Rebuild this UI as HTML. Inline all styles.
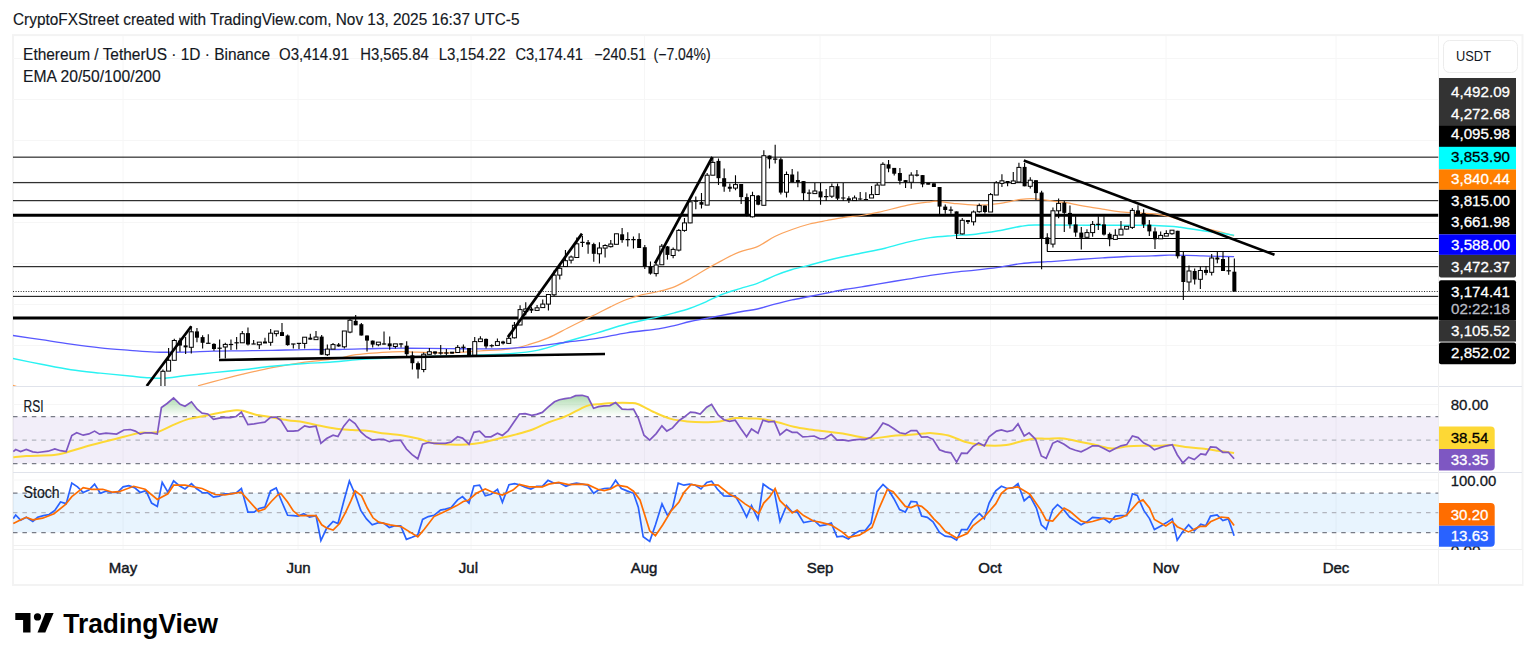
<!DOCTYPE html><html><head><meta charset="utf-8"><style>html,body{margin:0;padding:0;background:#fff;}svg{display:block;}text{font-family:"Liberation Sans", sans-serif;}</style></head><body>
<svg width="1536" height="662" viewBox="0 0 1536 662">
<defs>
<clipPath id="main"><rect x="13" y="35" width="1425.5" height="351"/></clipPath>
<clipPath id="rsi"><rect x="13" y="387" width="1425.5" height="85"/></clipPath>
<clipPath id="sto"><rect x="13" y="473" width="1425.5" height="75"/></clipPath>
<linearGradient id="gg" x1="0" y1="0" x2="0" y2="1"><stop offset="0" stop-color="#4caf50" stop-opacity="0.45"/><stop offset="1" stop-color="#4caf50" stop-opacity="0"/></linearGradient>
</defs>
<text x="13" y="24.6" font-size="15.9" fill="#131722" stroke="#131722" stroke-width="0.15" textLength="506.5" lengthAdjust="spacingAndGlyphs">CryptoFXStreet created with TradingView.com, Nov 13, 2025 16:37 UTC-5</text>
<rect x="13" y="35.1" width="1509.5" height="549.9" fill="none" stroke="#f3f3f3" stroke-width="2"/>
<line x1="123" y1="36" x2="123" y2="549" stroke="#f6f6f6" stroke-width="1"/>
<line x1="298" y1="36" x2="298" y2="549" stroke="#f6f6f6" stroke-width="1"/>
<line x1="471" y1="36" x2="471" y2="549" stroke="#f6f6f6" stroke-width="1"/>
<line x1="644.5" y1="36" x2="644.5" y2="549" stroke="#f6f6f6" stroke-width="1"/>
<line x1="820" y1="36" x2="820" y2="549" stroke="#f6f6f6" stroke-width="1"/>
<line x1="990.5" y1="36" x2="990.5" y2="549" stroke="#f6f6f6" stroke-width="1"/>
<line x1="1166" y1="36" x2="1166" y2="549" stroke="#f6f6f6" stroke-width="1"/>
<line x1="1336" y1="36" x2="1336" y2="549" stroke="#f6f6f6" stroke-width="1"/>
<line x1="13" y1="58.5" x2="1438.5" y2="58.5" stroke="#f6f6f6" stroke-width="1"/>
<line x1="13" y1="99.5" x2="1438.5" y2="99.5" stroke="#f6f6f6" stroke-width="1"/>
<line x1="13" y1="140.5" x2="1438.5" y2="140.5" stroke="#f6f6f6" stroke-width="1"/>
<line x1="13" y1="181.5" x2="1438.5" y2="181.5" stroke="#f6f6f6" stroke-width="1"/>
<line x1="13" y1="222.5" x2="1438.5" y2="222.5" stroke="#f6f6f6" stroke-width="1"/>
<line x1="13" y1="263.5" x2="1438.5" y2="263.5" stroke="#f6f6f6" stroke-width="1"/>
<line x1="13" y1="304.5" x2="1438.5" y2="304.5" stroke="#f6f6f6" stroke-width="1"/>
<line x1="13" y1="345.5" x2="1438.5" y2="345.5" stroke="#f6f6f6" stroke-width="1"/>
<line x1="13" y1="404.5" x2="1438.5" y2="404.5" stroke="#f6f6f6" stroke-width="1"/>
<line x1="13" y1="480" x2="1438.5" y2="480" stroke="#f6f6f6" stroke-width="1"/>
<line x1="13" y1="386.5" x2="1522" y2="386.5" stroke="#e0e3eb" stroke-width="1"/>
<line x1="13" y1="472.5" x2="1522" y2="472.5" stroke="#e0e3eb" stroke-width="1"/>
<line x1="13" y1="545.5" x2="1438.5" y2="545.5" stroke="#f0f0f0" stroke-width="1"/>
<line x1="13" y1="549.5" x2="1522" y2="549.5" stroke="#f0f0f0" stroke-width="1"/>
<line x1="1438.5" y1="36" x2="1438.5" y2="584" stroke="#f0f0f0" stroke-width="1"/>
<g clip-path="url(#main)">
<line x1="13" y1="157.15" x2="1438.5" y2="157.15" stroke="#000" stroke-width="1"/>
<line x1="13" y1="182.7" x2="1438.5" y2="182.7" stroke="#000" stroke-width="1"/>
<line x1="13" y1="200.7" x2="1438.5" y2="200.7" stroke="#000" stroke-width="1"/>
<line x1="13" y1="266.7" x2="1438.5" y2="266.7" stroke="#000" stroke-width="1"/>
<line x1="13" y1="296.35" x2="1438.5" y2="296.35" stroke="#000" stroke-width="1"/>
<line x1="956" y1="238.5" x2="1438.5" y2="238.5" stroke="#000" stroke-width="1"/>
<line x1="1047" y1="251.5" x2="1438.5" y2="251.5" stroke="#000" stroke-width="1"/>
<line x1="13" y1="215.3" x2="1438.5" y2="215.3" stroke="#000" stroke-width="3"/>
<line x1="13" y1="318" x2="1438.5" y2="318" stroke="#000" stroke-width="3"/>
<line x1="13" y1="291.5" x2="1438.5" y2="291.5" stroke="#222" stroke-width="1" stroke-dasharray="1,1.547"/>
<path d="M12,385.2 L18,387" fill="none" stroke="#ffa050" stroke-width="1.3"/>
<path d="M198.00,385.80 C202.23,384.67 215.92,380.95 223.40,379.00 C230.88,377.05 234.77,375.98 242.90,374.10 C251.03,372.22 261.85,369.70 272.20,367.70 C282.55,365.70 297.12,363.28 305.00,362.10 C312.88,360.92 313.83,361.25 319.50,360.60 C325.17,359.95 333.42,359.10 339.00,358.20 C344.58,357.30 348.10,356.00 353.00,355.20 C357.90,354.40 362.58,353.92 368.40,353.40 C374.22,352.88 382.22,352.40 387.90,352.10 C393.58,351.80 397.62,351.58 402.50,351.60 C407.38,351.62 409.28,352.00 417.20,352.20 C425.12,352.40 439.63,353.00 450.00,352.80 C460.37,352.60 469.58,351.62 479.40,351.00 C489.22,350.38 500.72,350.15 508.90,349.10 C517.08,348.05 521.95,346.58 528.50,344.70 C535.05,342.82 541.65,340.58 548.20,337.80 C554.75,335.02 561.27,331.27 567.80,328.00 C574.33,324.73 582.53,320.57 587.40,318.20 C592.27,315.83 593.08,315.73 597.00,313.80 C600.92,311.87 605.95,308.98 610.90,306.60 C615.85,304.22 621.42,301.48 626.70,299.50 C631.98,297.52 637.32,296.03 642.60,294.70 C647.88,293.37 653.12,292.82 658.40,291.50 C663.68,290.18 669.02,288.92 674.30,286.80 C679.58,284.68 684.82,281.72 690.10,278.80 C695.38,275.88 700.72,272.33 706.00,269.30 C711.28,266.27 716.38,263.43 721.80,260.60 C727.22,257.77 732.57,254.63 738.50,252.30 C744.43,249.97 751.35,249.23 757.40,246.60 C763.45,243.97 769.02,239.35 774.80,236.50 C780.58,233.65 786.32,231.58 792.10,229.50 C797.88,227.42 803.70,225.50 809.50,224.00 C815.30,222.50 821.10,221.60 826.90,220.50 C832.70,219.40 838.50,218.23 844.30,217.40 C850.10,216.57 855.90,216.37 861.70,215.50 C867.50,214.63 871.43,213.93 879.10,212.20 C886.77,210.47 899.17,206.83 907.70,205.10 C916.23,203.37 925.27,202.43 930.30,201.80 C935.33,201.17 934.12,201.05 937.90,201.30 C941.68,201.55 946.72,202.67 953.00,203.30 C959.28,203.93 968.05,205.05 975.60,205.10 C983.15,205.15 990.73,204.55 998.30,203.60 C1005.87,202.65 1014.88,200.20 1021.00,199.40 C1027.12,198.60 1029.47,198.48 1035.00,198.80 C1040.53,199.12 1048.98,200.65 1054.20,201.30 C1059.42,201.95 1062.27,202.07 1066.30,202.70 C1070.33,203.33 1074.38,204.35 1078.40,205.10 C1082.42,205.85 1086.38,206.53 1090.40,207.20 C1094.42,207.87 1098.47,208.43 1102.50,209.10 C1106.53,209.77 1110.57,210.65 1114.60,211.20 C1118.63,211.75 1120.47,211.98 1126.70,212.40 C1132.93,212.82 1144.95,213.02 1152.00,213.70 C1159.05,214.38 1163.33,215.08 1169.00,216.50 C1174.67,217.92 1180.33,220.30 1186.00,222.20 C1191.67,224.10 1197.33,226.30 1203.00,227.90 C1208.67,229.50 1214.82,230.48 1220.00,231.80 C1225.18,233.12 1231.75,235.13 1234.10,235.80" fill="none" stroke="#fba45e" stroke-width="1.25"/>
<path d="M12.00,358.40 C16.90,359.38 31.58,362.42 41.40,364.30 C51.22,366.18 61.08,368.23 70.90,369.70 C80.72,371.17 90.48,372.05 100.30,373.10 C110.12,374.15 121.62,375.22 129.80,376.00 C137.98,376.78 143.57,377.43 149.40,377.80 C155.23,378.17 158.98,378.53 164.80,378.20 C170.62,377.87 176.17,376.73 184.30,375.80 C192.43,374.87 203.83,373.62 213.60,372.60 C223.37,371.58 233.13,370.75 242.90,369.70 C252.67,368.65 261.85,367.33 272.20,366.30 C282.55,365.27 295.48,364.17 305.00,363.50 C314.52,362.83 320.37,362.95 329.30,362.30 C338.23,361.65 348.83,360.32 358.60,359.60 C368.37,358.88 379.77,358.47 387.90,358.00 C396.03,357.53 397.05,357.13 407.40,356.80 C417.75,356.47 438.00,356.30 450.00,356.00 C462.00,355.70 469.58,355.37 479.40,355.00 C489.22,354.63 499.08,354.62 508.90,353.80 C518.72,352.98 528.48,352.20 538.30,350.10 C548.12,348.00 557.85,344.12 567.80,341.20 C577.75,338.28 588.18,335.47 598.00,332.60 C607.82,329.73 616.63,326.62 626.70,324.00 C636.77,321.38 650.47,318.75 658.40,316.90 C666.33,315.05 669.02,314.35 674.30,312.90 C679.58,311.45 684.82,310.05 690.10,308.20 C695.38,306.35 700.72,304.08 706.00,301.80 C711.28,299.52 716.13,296.70 721.80,294.50 C727.47,292.30 734.07,290.45 740.00,288.60 C745.93,286.75 751.60,285.57 757.40,283.40 C763.20,281.23 769.02,277.92 774.80,275.60 C780.58,273.28 786.32,271.23 792.10,269.50 C797.88,267.77 803.70,266.70 809.50,265.20 C815.30,263.70 821.10,261.95 826.90,260.50 C832.70,259.05 838.50,257.75 844.30,256.50 C850.10,255.25 854.92,254.38 861.70,253.00 C868.48,251.62 877.33,250.02 885.00,248.20 C892.67,246.38 900.15,243.87 907.70,242.10 C915.25,240.33 922.75,238.68 930.30,237.60 C937.85,236.52 945.45,236.17 953.00,235.60 C960.55,235.03 968.05,235.00 975.60,234.20 C983.15,233.40 990.73,232.12 998.30,230.80 C1005.87,229.48 1014.88,227.27 1021.00,226.30 C1027.12,225.33 1027.45,225.20 1035.00,225.00 C1042.55,224.80 1055.05,225.05 1066.30,225.10 C1077.55,225.15 1090.42,225.27 1102.50,225.30 C1114.58,225.33 1127.72,225.15 1138.80,225.30 C1149.88,225.45 1162.08,225.87 1169.00,226.20 C1175.92,226.53 1176.53,226.83 1180.30,227.30 C1184.07,227.77 1187.82,228.43 1191.60,229.00 C1195.38,229.57 1198.27,230.03 1203.00,230.70 C1207.73,231.37 1214.82,232.25 1220.00,233.00 C1225.18,233.75 1231.75,234.83 1234.10,235.20" fill="none" stroke="#2af2f2" stroke-width="1.45"/>
<path d="M12.00,335.30 C16.90,336.03 31.58,338.23 41.40,339.70 C51.22,341.17 61.08,342.75 70.90,344.10 C80.72,345.45 90.48,346.77 100.30,347.80 C110.12,348.83 120.68,349.58 129.80,350.30 C138.92,351.02 145.92,351.80 155.00,352.10 C164.08,352.40 174.53,352.27 184.30,352.10 C194.07,351.93 203.83,351.32 213.60,351.10 C223.37,350.88 233.13,350.92 242.90,350.80 C252.67,350.68 261.85,350.60 272.20,350.40 C282.55,350.20 293.87,349.75 305.00,349.60 C316.13,349.45 326.82,349.68 339.00,349.50 C351.18,349.32 366.70,348.72 378.10,348.50 C389.50,348.28 395.42,348.18 407.40,348.20 C419.38,348.22 438.00,348.48 450.00,348.60 C462.00,348.72 469.58,348.95 479.40,348.90 C489.22,348.85 499.08,348.77 508.90,348.30 C518.72,347.83 528.48,347.15 538.30,346.10 C548.12,345.05 558.02,343.30 567.80,342.00 C577.58,340.70 587.18,339.83 597.00,338.30 C606.82,336.77 616.47,334.38 626.70,332.80 C636.93,331.22 650.47,330.00 658.40,328.80 C666.33,327.60 669.02,326.82 674.30,325.60 C679.58,324.38 684.82,322.68 690.10,321.50 C695.38,320.32 700.72,319.53 706.00,318.50 C711.28,317.47 715.80,316.47 721.80,315.30 C727.80,314.13 736.07,312.55 742.00,311.50 C747.93,310.45 751.93,310.22 757.40,309.00 C762.87,307.78 769.02,305.72 774.80,304.20 C780.58,302.68 786.32,301.18 792.10,299.90 C797.88,298.62 803.70,297.65 809.50,296.50 C815.30,295.35 821.10,294.17 826.90,293.00 C832.70,291.83 838.50,290.52 844.30,289.50 C850.10,288.48 855.90,287.85 861.70,286.90 C867.50,285.95 871.43,285.10 879.10,283.80 C886.77,282.50 899.17,280.52 907.70,279.10 C916.23,277.68 922.75,276.43 930.30,275.30 C937.85,274.17 945.45,273.17 953.00,272.30 C960.55,271.43 968.05,270.93 975.60,270.10 C983.15,269.27 990.73,268.38 998.30,267.30 C1005.87,266.22 1013.70,264.48 1021.00,263.60 C1028.30,262.72 1036.57,262.38 1042.10,262.00 C1047.63,261.62 1048.15,261.72 1054.20,261.30 C1060.25,260.88 1070.35,260.07 1078.40,259.50 C1086.45,258.93 1094.45,258.40 1102.50,257.90 C1110.55,257.40 1118.45,256.83 1126.70,256.50 C1134.95,256.17 1144.95,256.12 1152.00,255.90 C1159.05,255.68 1163.33,255.30 1169.00,255.20 C1174.67,255.10 1180.33,255.18 1186.00,255.30 C1191.67,255.42 1197.33,255.72 1203.00,255.90 C1208.67,256.08 1214.82,256.27 1220.00,256.40 C1225.18,256.53 1231.75,256.65 1234.10,256.70" fill="none" stroke="#5858ff" stroke-width="1.35"/>
<line x1="162.94" y1="369.4" x2="162.94" y2="400" stroke="#000" stroke-width="1.1"/>
<rect x="160.94" y="371.29999999999995" width="4" height="28.70" fill="#fff" stroke="#000" stroke-width="1"/>
<line x1="168.61" y1="347.9" x2="168.61" y2="371.1" stroke="#000" stroke-width="1.1"/>
<rect x="166.61" y="360.3" width="4" height="10.80" fill="#fff" stroke="#000" stroke-width="1"/>
<line x1="174.28" y1="338.8" x2="174.28" y2="360.3" stroke="#000" stroke-width="1.1"/>
<rect x="172.28" y="340.5" width="4" height="19.80" fill="#fff" stroke="#000" stroke-width="1"/>
<line x1="179.95" y1="337.7" x2="179.95" y2="351.8" stroke="#000" stroke-width="1.1"/>
<rect x="177.95" y="340.5" width="4" height="5.10" fill="#000"/>
<line x1="185.62" y1="337.1" x2="185.62" y2="354.1" stroke="#000" stroke-width="1.1"/>
<rect x="183.62" y="345.35" width="4" height="2.00" fill="#000"/>
<line x1="191.28" y1="326.3" x2="191.28" y2="353.5" stroke="#000" stroke-width="1.1"/>
<rect x="189.28" y="331.8" width="4" height="15.50" fill="#fff" stroke="#000" stroke-width="1"/>
<line x1="196.95" y1="328" x2="196.95" y2="342.2" stroke="#000" stroke-width="1.1"/>
<rect x="194.95" y="331.4" width="4" height="6.30" fill="#000"/>
<line x1="202.62" y1="335.2" x2="202.62" y2="348.4" stroke="#000" stroke-width="1.1"/>
<rect x="200.62" y="337.1" width="4" height="5.70" fill="#000"/>
<line x1="208.29" y1="334.3" x2="208.29" y2="343.3" stroke="#000" stroke-width="1.1"/>
<line x1="206.09" y1="343.3" x2="210.49" y2="343.3" stroke="#000" stroke-width="1.2"/>
<line x1="213.96" y1="343.3" x2="213.96" y2="350.7" stroke="#000" stroke-width="1.1"/>
<rect x="211.96" y="343.9" width="4" height="5.10" fill="#000"/>
<line x1="219.63" y1="339.4" x2="219.63" y2="358.6" stroke="#000" stroke-width="1.1"/>
<line x1="217.43" y1="348.2" x2="221.83" y2="348.2" stroke="#000" stroke-width="1.2"/>
<line x1="225.30" y1="342.8" x2="225.30" y2="358.6" stroke="#000" stroke-width="1.1"/>
<rect x="223.30" y="344.4" width="4" height="2.60" fill="#fff" stroke="#000" stroke-width="1"/>
<line x1="230.97" y1="339.4" x2="230.97" y2="350.1" stroke="#000" stroke-width="1.1"/>
<line x1="228.77" y1="344.5" x2="233.17" y2="344.5" stroke="#000" stroke-width="1.2"/>
<line x1="236.63" y1="337.1" x2="236.63" y2="349.6" stroke="#000" stroke-width="1.1"/>
<line x1="234.43" y1="342.8" x2="238.83" y2="342.8" stroke="#000" stroke-width="1.2"/>
<line x1="242.30" y1="330.9" x2="242.30" y2="342.8" stroke="#000" stroke-width="1.1"/>
<rect x="240.30" y="333.7" width="4" height="9.10" fill="#fff" stroke="#000" stroke-width="1"/>
<line x1="247.97" y1="327.5" x2="247.97" y2="345.6" stroke="#000" stroke-width="1.1"/>
<rect x="245.97" y="333.1" width="4" height="11.40" fill="#000"/>
<line x1="253.64" y1="340" x2="253.64" y2="344" stroke="#000" stroke-width="1.1"/>
<line x1="251.44" y1="344" x2="255.84" y2="344" stroke="#000" stroke-width="1.2"/>
<line x1="259.31" y1="342.9" x2="259.31" y2="349.1" stroke="#000" stroke-width="1.1"/>
<rect x="257.31" y="342.15" width="4" height="2.60" fill="#fff" stroke="#000" stroke-width="1"/>
<line x1="264.98" y1="337.8" x2="264.98" y2="343" stroke="#000" stroke-width="1.1"/>
<rect x="262.98" y="341.5" width="4" height="2.00" fill="#000"/>
<line x1="270.65" y1="329" x2="270.65" y2="345.7" stroke="#000" stroke-width="1.1"/>
<rect x="268.65" y="333.2" width="4" height="9.10" fill="#fff" stroke="#000" stroke-width="1"/>
<line x1="276.32" y1="331.5" x2="276.32" y2="336.6" stroke="#000" stroke-width="1.1"/>
<rect x="274.32" y="331.05" width="4" height="2.60" fill="#fff" stroke="#000" stroke-width="1"/>
<line x1="281.99" y1="323" x2="281.99" y2="336" stroke="#000" stroke-width="1.1"/>
<rect x="279.99" y="332.1" width="4" height="3.90" fill="#000"/>
<line x1="287.65" y1="334.4" x2="287.65" y2="345.7" stroke="#000" stroke-width="1.1"/>
<rect x="285.65" y="335.5" width="4" height="9.60" fill="#000"/>
<line x1="293.32" y1="344" x2="293.32" y2="348.5" stroke="#000" stroke-width="1.1"/>
<line x1="291.12" y1="344" x2="295.52" y2="344" stroke="#000" stroke-width="1.2"/>
<line x1="298.99" y1="343.4" x2="298.99" y2="349.1" stroke="#000" stroke-width="1.1"/>
<line x1="296.79" y1="343.4" x2="301.19" y2="343.4" stroke="#000" stroke-width="1.2"/>
<line x1="304.66" y1="337.2" x2="304.66" y2="348.5" stroke="#000" stroke-width="1.1"/>
<rect x="302.66" y="337.19999999999993" width="4" height="6.20" fill="#fff" stroke="#000" stroke-width="1"/>
<line x1="310.33" y1="333.8" x2="310.33" y2="339.5" stroke="#000" stroke-width="1.1"/>
<rect x="308.33" y="337.65" width="4" height="2.00" fill="#000"/>
<line x1="316.00" y1="331" x2="316.00" y2="339.5" stroke="#000" stroke-width="1.1"/>
<rect x="314.00" y="337.05" width="4" height="2.60" fill="#fff" stroke="#000" stroke-width="1"/>
<line x1="321.67" y1="334.9" x2="321.67" y2="354.7" stroke="#000" stroke-width="1.1"/>
<rect x="319.67" y="336.6" width="4" height="18.10" fill="#000"/>
<line x1="327.34" y1="344.6" x2="327.34" y2="355.9" stroke="#000" stroke-width="1.1"/>
<rect x="325.34" y="349.1" width="4" height="5.60" fill="#fff" stroke="#000" stroke-width="1"/>
<line x1="333.01" y1="342.9" x2="333.01" y2="349.1" stroke="#000" stroke-width="1.1"/>
<rect x="331.01" y="344.6" width="4" height="4.50" fill="#fff" stroke="#000" stroke-width="1"/>
<line x1="338.67" y1="342.9" x2="338.67" y2="346.8" stroke="#000" stroke-width="1.1"/>
<rect x="336.67" y="344.45000000000005" width="4" height="2.00" fill="#000"/>
<line x1="344.34" y1="331" x2="344.34" y2="348.5" stroke="#000" stroke-width="1.1"/>
<rect x="342.34" y="331" width="4" height="15.80" fill="#fff" stroke="#000" stroke-width="1"/>
<line x1="350.01" y1="319" x2="350.01" y2="333.2" stroke="#000" stroke-width="1.1"/>
<rect x="348.01" y="320.19999999999993" width="4" height="11.90" fill="#fff" stroke="#000" stroke-width="1"/>
<line x1="355.68" y1="315.1" x2="355.68" y2="325.3" stroke="#000" stroke-width="1.1"/>
<rect x="353.68" y="320.8" width="4" height="4.50" fill="#000"/>
<line x1="361.35" y1="323" x2="361.35" y2="335.5" stroke="#000" stroke-width="1.1"/>
<rect x="359.35" y="324.2" width="4" height="11.30" fill="#000"/>
<line x1="367.02" y1="335.5" x2="367.02" y2="351.4" stroke="#000" stroke-width="1.1"/>
<rect x="365.02" y="335.5" width="4" height="5.10" fill="#000"/>
<line x1="372.69" y1="340.6" x2="372.69" y2="347.4" stroke="#000" stroke-width="1.1"/>
<rect x="370.69" y="340.6" width="4" height="4.00" fill="#000"/>
<line x1="378.36" y1="342.9" x2="378.36" y2="346.3" stroke="#000" stroke-width="1.1"/>
<rect x="376.36" y="342.15" width="4" height="2.60" fill="#fff" stroke="#000" stroke-width="1"/>
<line x1="384.02" y1="331.5" x2="384.02" y2="344.5" stroke="#000" stroke-width="1.1"/>
<line x1="381.82" y1="344" x2="386.22" y2="344" stroke="#000" stroke-width="1.2"/>
<line x1="389.69" y1="336.6" x2="389.69" y2="349.7" stroke="#000" stroke-width="1.1"/>
<rect x="387.69" y="343.4" width="4" height="2.90" fill="#000"/>
<line x1="395.36" y1="344" x2="395.36" y2="348.5" stroke="#000" stroke-width="1.1"/>
<rect x="393.36" y="343.84999999999997" width="4" height="2.60" fill="#fff" stroke="#000" stroke-width="1"/>
<line x1="401.03" y1="343" x2="401.03" y2="347.4" stroke="#000" stroke-width="1.1"/>
<line x1="398.83" y1="344" x2="403.23" y2="344" stroke="#000" stroke-width="1.2"/>
<line x1="406.70" y1="341.2" x2="406.70" y2="355.9" stroke="#000" stroke-width="1.1"/>
<rect x="404.70" y="345.7" width="4" height="8.50" fill="#000"/>
<line x1="412.37" y1="351.4" x2="412.37" y2="369.5" stroke="#000" stroke-width="1.1"/>
<rect x="410.37" y="355.3" width="4" height="7.90" fill="#000"/>
<line x1="418.04" y1="361.5" x2="418.04" y2="378.5" stroke="#000" stroke-width="1.1"/>
<rect x="416.04" y="363.2" width="4" height="6.30" fill="#000"/>
<line x1="423.71" y1="352.5" x2="423.71" y2="372.3" stroke="#000" stroke-width="1.1"/>
<rect x="421.71" y="354.2" width="4" height="15.30" fill="#fff" stroke="#000" stroke-width="1"/>
<line x1="429.38" y1="348" x2="429.38" y2="354.7" stroke="#000" stroke-width="1.1"/>
<rect x="427.38" y="351.74999999999994" width="4" height="2.60" fill="#fff" stroke="#000" stroke-width="1"/>
<line x1="435.04" y1="351.4" x2="435.04" y2="354.7" stroke="#000" stroke-width="1.1"/>
<rect x="433.04" y="351.4" width="4" height="2.20" fill="#000"/>
<line x1="440.71" y1="345.1" x2="440.71" y2="354.7" stroke="#000" stroke-width="1.1"/>
<line x1="438.51" y1="353" x2="442.91" y2="353" stroke="#000" stroke-width="1.2"/>
<line x1="446.38" y1="349.1" x2="446.38" y2="355.3" stroke="#000" stroke-width="1.1"/>
<line x1="444.18" y1="353" x2="448.58" y2="353" stroke="#000" stroke-width="1.2"/>
<line x1="452.05" y1="352.1" x2="452.05" y2="353.6" stroke="#000" stroke-width="1.1"/>
<rect x="450.05" y="351.70000000000005" width="4" height="2.00" fill="#000"/>
<line x1="457.72" y1="345.1" x2="457.72" y2="352.5" stroke="#000" stroke-width="1.1"/>
<rect x="455.72" y="347.4" width="4" height="5.10" fill="#fff" stroke="#000" stroke-width="1"/>
<line x1="463.39" y1="344.6" x2="463.39" y2="352.2" stroke="#000" stroke-width="1.1"/>
<line x1="461.19" y1="347.3" x2="465.59" y2="347.3" stroke="#000" stroke-width="1.2"/>
<line x1="469.06" y1="348" x2="469.06" y2="356" stroke="#000" stroke-width="1.1"/>
<rect x="467.06" y="348" width="4" height="7.20" fill="#000"/>
<line x1="474.73" y1="337.1" x2="474.73" y2="355.2" stroke="#000" stroke-width="1.1"/>
<rect x="472.73" y="341.6" width="4" height="13.60" fill="#fff" stroke="#000" stroke-width="1"/>
<line x1="480.40" y1="336.3" x2="480.40" y2="341.6" stroke="#000" stroke-width="1.1"/>
<rect x="478.40" y="338.9" width="4" height="2.70" fill="#fff" stroke="#000" stroke-width="1"/>
<line x1="486.06" y1="338.6" x2="486.06" y2="348.4" stroke="#000" stroke-width="1.1"/>
<rect x="484.06" y="338.9" width="4" height="7.50" fill="#000"/>
<line x1="491.73" y1="344.3" x2="491.73" y2="347.6" stroke="#000" stroke-width="1.1"/>
<line x1="489.53" y1="345.7" x2="493.93" y2="345.7" stroke="#000" stroke-width="1.2"/>
<line x1="497.40" y1="338.6" x2="497.40" y2="345.4" stroke="#000" stroke-width="1.1"/>
<rect x="495.40" y="341.6" width="4" height="3.80" fill="#fff" stroke="#000" stroke-width="1"/>
<line x1="503.07" y1="340.8" x2="503.07" y2="344.6" stroke="#000" stroke-width="1.1"/>
<rect x="501.07" y="341.5" width="4" height="2.00" fill="#000"/>
<line x1="508.74" y1="336.3" x2="508.74" y2="343.8" stroke="#000" stroke-width="1.1"/>
<rect x="506.74" y="338.3" width="4" height="5.10" fill="#fff" stroke="#000" stroke-width="1"/>
<line x1="514.41" y1="322" x2="514.41" y2="338.6" stroke="#000" stroke-width="1.1"/>
<rect x="512.41" y="325.3" width="4" height="12.50" fill="#fff" stroke="#000" stroke-width="1"/>
<line x1="520.08" y1="305.3" x2="520.08" y2="325" stroke="#000" stroke-width="1.1"/>
<rect x="518.08" y="309.6" width="4" height="15.40" fill="#fff" stroke="#000" stroke-width="1"/>
<line x1="525.75" y1="302.3" x2="525.75" y2="315.2" stroke="#000" stroke-width="1.1"/>
<rect x="523.75" y="308.95" width="4" height="2.60" fill="#fff" stroke="#000" stroke-width="1"/>
<line x1="531.41" y1="306.8" x2="531.41" y2="312.9" stroke="#000" stroke-width="1.1"/>
<rect x="529.41" y="308.65" width="4" height="2.00" fill="#000"/>
<line x1="537.08" y1="305" x2="537.08" y2="310.2" stroke="#000" stroke-width="1.1"/>
<rect x="535.08" y="307.8" width="4" height="2.60" fill="#fff" stroke="#000" stroke-width="1"/>
<line x1="542.75" y1="299.6" x2="542.75" y2="307.6" stroke="#000" stroke-width="1.1"/>
<rect x="540.75" y="304.1" width="4" height="3.50" fill="#fff" stroke="#000" stroke-width="1"/>
<line x1="548.42" y1="294" x2="548.42" y2="310.6" stroke="#000" stroke-width="1.1"/>
<rect x="546.42" y="294.5" width="4" height="9.60" fill="#fff" stroke="#000" stroke-width="1"/>
<line x1="554.09" y1="270.6" x2="554.09" y2="296.3" stroke="#000" stroke-width="1.1"/>
<rect x="552.09" y="275.1" width="4" height="19.70" fill="#fff" stroke="#000" stroke-width="1"/>
<line x1="559.76" y1="263" x2="559.76" y2="279.6" stroke="#000" stroke-width="1.1"/>
<rect x="557.76" y="268.3" width="4" height="6.80" fill="#fff" stroke="#000" stroke-width="1"/>
<line x1="565.43" y1="250.1" x2="565.43" y2="266.5" stroke="#000" stroke-width="1.1"/>
<rect x="563.43" y="260.7" width="4" height="5.80" fill="#fff" stroke="#000" stroke-width="1"/>
<line x1="571.10" y1="255.4" x2="571.10" y2="263.4" stroke="#000" stroke-width="1.1"/>
<rect x="569.10" y="257" width="4" height="3.20" fill="#fff" stroke="#000" stroke-width="1"/>
<line x1="576.77" y1="237.5" x2="576.77" y2="257.5" stroke="#000" stroke-width="1.1"/>
<rect x="574.77" y="243.8" width="4" height="13.70" fill="#fff" stroke="#000" stroke-width="1"/>
<line x1="582.43" y1="235.9" x2="582.43" y2="247" stroke="#000" stroke-width="1.1"/>
<line x1="580.23" y1="242.4" x2="584.63" y2="242.4" stroke="#000" stroke-width="1.2"/>
<line x1="588.10" y1="240.1" x2="588.10" y2="253.8" stroke="#000" stroke-width="1.1"/>
<rect x="586.10" y="242.2" width="4" height="2.30" fill="#000"/>
<line x1="593.77" y1="242.7" x2="593.77" y2="261.8" stroke="#000" stroke-width="1.1"/>
<rect x="591.77" y="244.09999999999997" width="4" height="9.70" fill="#000"/>
<line x1="599.44" y1="242.2" x2="599.44" y2="263.4" stroke="#000" stroke-width="1.1"/>
<rect x="597.44" y="248" width="4" height="5.80" fill="#fff" stroke="#000" stroke-width="1"/>
<line x1="605.11" y1="244.3" x2="605.11" y2="257.5" stroke="#000" stroke-width="1.1"/>
<rect x="603.11" y="245.5" width="4" height="2.60" fill="#fff" stroke="#000" stroke-width="1"/>
<line x1="610.78" y1="240.1" x2="610.78" y2="247.5" stroke="#000" stroke-width="1.1"/>
<rect x="608.78" y="244.05" width="4" height="2.60" fill="#fff" stroke="#000" stroke-width="1"/>
<line x1="616.45" y1="233.8" x2="616.45" y2="244.3" stroke="#000" stroke-width="1.1"/>
<rect x="614.45" y="233.8" width="4" height="10.50" fill="#fff" stroke="#000" stroke-width="1"/>
<line x1="622.12" y1="227.9" x2="622.12" y2="242.7" stroke="#000" stroke-width="1.1"/>
<rect x="620.12" y="234.3" width="4" height="5.80" fill="#000"/>
<line x1="627.78" y1="232.2" x2="627.78" y2="246.4" stroke="#000" stroke-width="1.1"/>
<line x1="625.58" y1="239.6" x2="629.98" y2="239.6" stroke="#000" stroke-width="1.2"/>
<line x1="633.45" y1="236.4" x2="633.45" y2="248.6" stroke="#000" stroke-width="1.1"/>
<line x1="631.25" y1="239.6" x2="635.65" y2="239.6" stroke="#000" stroke-width="1.2"/>
<line x1="639.12" y1="233.2" x2="639.12" y2="248" stroke="#000" stroke-width="1.1"/>
<rect x="637.12" y="239" width="4" height="9.00" fill="#000"/>
<line x1="644.79" y1="245" x2="644.79" y2="269.1" stroke="#000" stroke-width="1.1"/>
<rect x="642.79" y="247.2" width="4" height="19.60" fill="#000"/>
<line x1="650.46" y1="261.5" x2="650.46" y2="274.6" stroke="#000" stroke-width="1.1"/>
<rect x="648.46" y="266.19999999999993" width="4" height="7.40" fill="#000"/>
<line x1="656.13" y1="263.4" x2="656.13" y2="276.4" stroke="#000" stroke-width="1.1"/>
<rect x="654.13" y="265" width="4" height="8.60" fill="#fff" stroke="#000" stroke-width="1"/>
<line x1="661.80" y1="244" x2="661.80" y2="265" stroke="#000" stroke-width="1.1"/>
<rect x="659.80" y="246.2" width="4" height="18.60" fill="#fff" stroke="#000" stroke-width="1"/>
<line x1="667.47" y1="246" x2="667.47" y2="259.6" stroke="#000" stroke-width="1.1"/>
<rect x="665.47" y="246.4" width="4" height="8.50" fill="#000"/>
<line x1="673.14" y1="247.4" x2="673.14" y2="258.3" stroke="#000" stroke-width="1.1"/>
<rect x="671.14" y="249.39999999999998" width="4" height="6.10" fill="#fff" stroke="#000" stroke-width="1"/>
<line x1="678.80" y1="229" x2="678.80" y2="251.5" stroke="#000" stroke-width="1.1"/>
<rect x="676.80" y="230.4" width="4" height="19.70" fill="#fff" stroke="#000" stroke-width="1"/>
<line x1="684.47" y1="218.1" x2="684.47" y2="231.7" stroke="#000" stroke-width="1.1"/>
<rect x="682.47" y="222.9" width="4" height="7.50" fill="#fff" stroke="#000" stroke-width="1"/>
<line x1="690.14" y1="201" x2="690.14" y2="223.3" stroke="#000" stroke-width="1.1"/>
<rect x="688.14" y="201.8" width="4" height="21.10" fill="#fff" stroke="#000" stroke-width="1"/>
<line x1="695.81" y1="196.4" x2="695.81" y2="209.3" stroke="#000" stroke-width="1.1"/>
<line x1="693.61" y1="201.2" x2="698.01" y2="201.2" stroke="#000" stroke-width="1.2"/>
<line x1="701.48" y1="193" x2="701.48" y2="208.5" stroke="#000" stroke-width="1.1"/>
<rect x="699.48" y="202.09999999999997" width="4" height="2.60" fill="#000"/>
<line x1="707.15" y1="173" x2="707.15" y2="205.1" stroke="#000" stroke-width="1.1"/>
<rect x="705.15" y="175.2" width="4" height="29.90" fill="#fff" stroke="#000" stroke-width="1"/>
<line x1="712.82" y1="157.8" x2="712.82" y2="175.2" stroke="#000" stroke-width="1.1"/>
<rect x="710.82" y="162.4" width="4" height="12.80" fill="#fff" stroke="#000" stroke-width="1"/>
<line x1="718.49" y1="158.6" x2="718.49" y2="185" stroke="#000" stroke-width="1.1"/>
<rect x="716.49" y="160.9" width="4" height="17.30" fill="#000"/>
<line x1="724.16" y1="168.4" x2="724.16" y2="191.8" stroke="#000" stroke-width="1.1"/>
<rect x="722.16" y="178.2" width="4" height="8.40" fill="#000"/>
<line x1="729.82" y1="183.5" x2="729.82" y2="191.8" stroke="#000" stroke-width="1.1"/>
<rect x="727.82" y="186.75" width="4" height="2.00" fill="#000"/>
<line x1="735.49" y1="175.2" x2="735.49" y2="190.3" stroke="#000" stroke-width="1.1"/>
<rect x="733.49" y="184.6" width="4" height="3.50" fill="#fff" stroke="#000" stroke-width="1"/>
<line x1="741.16" y1="184" x2="741.16" y2="203.9" stroke="#000" stroke-width="1.1"/>
<rect x="739.16" y="184" width="4" height="13.10" fill="#000"/>
<line x1="746.83" y1="193.4" x2="746.83" y2="216.5" stroke="#000" stroke-width="1.1"/>
<rect x="744.83" y="197.1" width="4" height="18.90" fill="#000"/>
<line x1="752.50" y1="191.8" x2="752.50" y2="217.5" stroke="#000" stroke-width="1.1"/>
<rect x="750.50" y="195.59999999999997" width="4" height="21.20" fill="#fff" stroke="#000" stroke-width="1"/>
<line x1="758.17" y1="195" x2="758.17" y2="205.3" stroke="#000" stroke-width="1.1"/>
<rect x="756.17" y="195.59999999999997" width="4" height="9.10" fill="#000"/>
<line x1="763.84" y1="150.3" x2="763.84" y2="205.3" stroke="#000" stroke-width="1.1"/>
<rect x="761.84" y="155.7" width="4" height="49.60" fill="#fff" stroke="#000" stroke-width="1"/>
<line x1="769.51" y1="155.5" x2="769.51" y2="168.4" stroke="#000" stroke-width="1.1"/>
<rect x="767.51" y="155.5" width="4" height="3.80" fill="#000"/>
<line x1="775.17" y1="144.8" x2="775.17" y2="163.6" stroke="#000" stroke-width="1.1"/>
<line x1="772.97" y1="159.1" x2="777.37" y2="159.1" stroke="#000" stroke-width="1.2"/>
<line x1="780.84" y1="157.5" x2="780.84" y2="194.4" stroke="#000" stroke-width="1.1"/>
<rect x="778.84" y="159.3" width="4" height="33.30" fill="#000"/>
<line x1="786.51" y1="171.4" x2="786.51" y2="197.4" stroke="#000" stroke-width="1.1"/>
<rect x="784.51" y="174.5" width="4" height="17.70" fill="#fff" stroke="#000" stroke-width="1"/>
<line x1="792.18" y1="169" x2="792.18" y2="182.3" stroke="#000" stroke-width="1.1"/>
<rect x="790.18" y="174.5" width="4" height="7.80" fill="#000"/>
<line x1="797.85" y1="171.4" x2="797.85" y2="187.2" stroke="#000" stroke-width="1.1"/>
<rect x="795.85" y="180" width="4" height="2.00" fill="#000"/>
<line x1="803.52" y1="181.1" x2="803.52" y2="200.5" stroke="#000" stroke-width="1.1"/>
<rect x="801.52" y="181.09999999999997" width="4" height="12.10" fill="#000"/>
<line x1="809.19" y1="189.6" x2="809.19" y2="201.1" stroke="#000" stroke-width="1.1"/>
<line x1="806.99" y1="193.2" x2="811.39" y2="193.2" stroke="#000" stroke-width="1.2"/>
<line x1="814.86" y1="182.9" x2="814.86" y2="193.2" stroke="#000" stroke-width="1.1"/>
<rect x="812.86" y="191.0" width="4" height="2.60" fill="#fff" stroke="#000" stroke-width="1"/>
<line x1="820.53" y1="182.9" x2="820.53" y2="204.7" stroke="#000" stroke-width="1.1"/>
<rect x="818.53" y="191.4" width="4" height="6.00" fill="#000"/>
<line x1="826.19" y1="189" x2="826.19" y2="201.1" stroke="#000" stroke-width="1.1"/>
<line x1="823.99" y1="196.6" x2="828.39" y2="196.6" stroke="#000" stroke-width="1.2"/>
<line x1="831.86" y1="183.5" x2="831.86" y2="198" stroke="#000" stroke-width="1.1"/>
<rect x="829.86" y="186.59999999999997" width="4" height="9.60" fill="#fff" stroke="#000" stroke-width="1"/>
<line x1="837.53" y1="183.5" x2="837.53" y2="199.9" stroke="#000" stroke-width="1.1"/>
<rect x="835.53" y="186.2" width="4" height="12.40" fill="#000"/>
<line x1="843.20" y1="182.9" x2="843.20" y2="201.1" stroke="#000" stroke-width="1.1"/>
<line x1="841.00" y1="198" x2="845.40" y2="198" stroke="#000" stroke-width="1.2"/>
<line x1="848.87" y1="196.2" x2="848.87" y2="202.9" stroke="#000" stroke-width="1.1"/>
<rect x="846.87" y="198.25" width="4" height="2.00" fill="#000"/>
<line x1="854.54" y1="195.6" x2="854.54" y2="199.9" stroke="#000" stroke-width="1.1"/>
<rect x="852.54" y="197.95" width="4" height="2.60" fill="#fff" stroke="#000" stroke-width="1"/>
<line x1="860.21" y1="192" x2="860.21" y2="199.9" stroke="#000" stroke-width="1.1"/>
<line x1="858.01" y1="199" x2="862.41" y2="199" stroke="#000" stroke-width="1.2"/>
<line x1="865.88" y1="192.3" x2="865.88" y2="200" stroke="#000" stroke-width="1.1"/>
<line x1="863.68" y1="199.5" x2="868.08" y2="199.5" stroke="#000" stroke-width="1.2"/>
<line x1="871.55" y1="185.9" x2="871.55" y2="198" stroke="#000" stroke-width="1.1"/>
<rect x="869.55" y="194.7" width="4" height="3.30" fill="#fff" stroke="#000" stroke-width="1"/>
<line x1="877.21" y1="183" x2="877.21" y2="194.5" stroke="#000" stroke-width="1.1"/>
<rect x="875.21" y="185.1" width="4" height="9.40" fill="#fff" stroke="#000" stroke-width="1"/>
<line x1="882.88" y1="162.2" x2="882.88" y2="185.1" stroke="#000" stroke-width="1.1"/>
<rect x="880.88" y="164.3" width="4" height="20.80" fill="#fff" stroke="#000" stroke-width="1"/>
<line x1="888.55" y1="160" x2="888.55" y2="172.2" stroke="#000" stroke-width="1.1"/>
<rect x="886.55" y="164.3" width="4" height="4.30" fill="#000"/>
<line x1="894.22" y1="167.9" x2="894.22" y2="175.5" stroke="#000" stroke-width="1.1"/>
<rect x="892.22" y="167.9" width="4" height="5.80" fill="#000"/>
<line x1="899.89" y1="167.9" x2="899.89" y2="184.4" stroke="#000" stroke-width="1.1"/>
<rect x="897.89" y="173" width="4" height="7.80" fill="#000"/>
<line x1="905.56" y1="180.1" x2="905.56" y2="188" stroke="#000" stroke-width="1.1"/>
<rect x="903.56" y="180.09999999999997" width="4" height="2.20" fill="#000"/>
<line x1="911.23" y1="172.2" x2="911.23" y2="188.7" stroke="#000" stroke-width="1.1"/>
<rect x="909.23" y="175.09999999999997" width="4" height="7.20" fill="#fff" stroke="#000" stroke-width="1"/>
<line x1="916.90" y1="170" x2="916.90" y2="176.5" stroke="#000" stroke-width="1.1"/>
<line x1="914.70" y1="175.1" x2="919.10" y2="175.1" stroke="#000" stroke-width="1.2"/>
<line x1="922.56" y1="175.1" x2="922.56" y2="187.3" stroke="#000" stroke-width="1.1"/>
<rect x="920.56" y="175.1" width="4" height="9.30" fill="#000"/>
<line x1="928.23" y1="183" x2="928.23" y2="184.4" stroke="#000" stroke-width="1.1"/>
<rect x="926.23" y="182.7" width="4" height="2.00" fill="#000"/>
<line x1="933.90" y1="183.3" x2="933.90" y2="187" stroke="#000" stroke-width="1.1"/>
<rect x="931.90" y="183.3" width="4" height="3.70" fill="#000"/>
<line x1="939.57" y1="187" x2="939.57" y2="214.5" stroke="#000" stroke-width="1.1"/>
<rect x="937.57" y="187" width="4" height="19.60" fill="#000"/>
<line x1="945.24" y1="204.5" x2="945.24" y2="213.8" stroke="#000" stroke-width="1.1"/>
<rect x="943.24" y="206.6" width="4" height="3.40" fill="#000"/>
<line x1="950.91" y1="206.6" x2="950.91" y2="213.8" stroke="#000" stroke-width="1.1"/>
<line x1="948.71" y1="210.2" x2="953.11" y2="210.2" stroke="#000" stroke-width="1.2"/>
<line x1="956.58" y1="211.4" x2="956.58" y2="238.2" stroke="#000" stroke-width="1.1"/>
<rect x="954.58" y="211.4" width="4" height="22.50" fill="#000"/>
<line x1="962.25" y1="218.1" x2="962.25" y2="234.5" stroke="#000" stroke-width="1.1"/>
<rect x="960.25" y="220.3" width="4" height="13.60" fill="#fff" stroke="#000" stroke-width="1"/>
<line x1="967.92" y1="220.3" x2="967.92" y2="224" stroke="#000" stroke-width="1.1"/>
<rect x="965.92" y="220.05" width="4" height="2.00" fill="#000"/>
<line x1="973.58" y1="210.4" x2="973.58" y2="225.6" stroke="#000" stroke-width="1.1"/>
<rect x="971.58" y="212" width="4" height="9.80" fill="#fff" stroke="#000" stroke-width="1"/>
<line x1="979.25" y1="203.6" x2="979.25" y2="212.7" stroke="#000" stroke-width="1.1"/>
<rect x="977.25" y="205.59999999999997" width="4" height="6.10" fill="#fff" stroke="#000" stroke-width="1"/>
<line x1="984.92" y1="205.6" x2="984.92" y2="213.5" stroke="#000" stroke-width="1.1"/>
<rect x="982.92" y="205.6" width="4" height="6.40" fill="#000"/>
<line x1="990.59" y1="193" x2="990.59" y2="212" stroke="#000" stroke-width="1.1"/>
<rect x="988.59" y="194.6" width="4" height="17.40" fill="#fff" stroke="#000" stroke-width="1"/>
<line x1="996.26" y1="181" x2="996.26" y2="195" stroke="#000" stroke-width="1.1"/>
<rect x="994.26" y="182.89999999999998" width="4" height="12.10" fill="#fff" stroke="#000" stroke-width="1"/>
<line x1="1001.93" y1="174.2" x2="1001.93" y2="187" stroke="#000" stroke-width="1.1"/>
<rect x="999.93" y="180.79999999999998" width="4" height="2.60" fill="#fff" stroke="#000" stroke-width="1"/>
<line x1="1007.60" y1="181" x2="1007.60" y2="186.3" stroke="#000" stroke-width="1.1"/>
<rect x="1005.60" y="181" width="4" height="2.20" fill="#000"/>
<line x1="1013.27" y1="171.9" x2="1013.27" y2="183.5" stroke="#000" stroke-width="1.1"/>
<rect x="1011.27" y="180.95" width="4" height="2.60" fill="#fff" stroke="#000" stroke-width="1"/>
<line x1="1018.93" y1="162.8" x2="1018.93" y2="182" stroke="#000" stroke-width="1.1"/>
<rect x="1016.93" y="167.39999999999998" width="4" height="14.60" fill="#fff" stroke="#000" stroke-width="1"/>
<line x1="1024.60" y1="162.8" x2="1024.60" y2="186.3" stroke="#000" stroke-width="1.1"/>
<rect x="1022.60" y="166.9" width="4" height="19.40" fill="#000"/>
<line x1="1030.27" y1="177.2" x2="1030.27" y2="188.5" stroke="#000" stroke-width="1.1"/>
<rect x="1028.27" y="180.2" width="4" height="6.10" fill="#fff" stroke="#000" stroke-width="1"/>
<line x1="1035.94" y1="180.2" x2="1035.94" y2="199.9" stroke="#000" stroke-width="1.1"/>
<rect x="1033.94" y="180.2" width="4" height="12.90" fill="#000"/>
<line x1="1041.61" y1="190.8" x2="1041.61" y2="269.3" stroke="#000" stroke-width="1.1"/>
<rect x="1039.61" y="192.5" width="4" height="45.50" fill="#000"/>
<line x1="1047.28" y1="233.3" x2="1047.28" y2="251.6" stroke="#000" stroke-width="1.1"/>
<rect x="1045.28" y="237.3" width="4" height="6.80" fill="#000"/>
<line x1="1052.95" y1="207.4" x2="1052.95" y2="247.5" stroke="#000" stroke-width="1.1"/>
<rect x="1050.95" y="210.8" width="4" height="33.30" fill="#fff" stroke="#000" stroke-width="1"/>
<line x1="1058.62" y1="198.6" x2="1058.62" y2="218.3" stroke="#000" stroke-width="1.1"/>
<rect x="1056.62" y="203.4" width="4" height="7.40" fill="#fff" stroke="#000" stroke-width="1"/>
<line x1="1064.29" y1="201" x2="1064.29" y2="231.9" stroke="#000" stroke-width="1.1"/>
<rect x="1062.29" y="202.7" width="4" height="10.20" fill="#000"/>
<line x1="1069.95" y1="205.4" x2="1069.95" y2="228.5" stroke="#000" stroke-width="1.1"/>
<rect x="1067.95" y="212.9" width="4" height="11.50" fill="#000"/>
<line x1="1075.62" y1="216.3" x2="1075.62" y2="236.7" stroke="#000" stroke-width="1.1"/>
<rect x="1073.62" y="224.4" width="4" height="8.20" fill="#000"/>
<line x1="1081.29" y1="227.1" x2="1081.29" y2="249.6" stroke="#000" stroke-width="1.1"/>
<rect x="1079.29" y="232.59999999999997" width="4" height="5.20" fill="#000"/>
<line x1="1086.96" y1="229.2" x2="1086.96" y2="237.3" stroke="#000" stroke-width="1.1"/>
<rect x="1084.96" y="232.59999999999997" width="4" height="4.70" fill="#fff" stroke="#000" stroke-width="1"/>
<line x1="1092.63" y1="221" x2="1092.63" y2="236.7" stroke="#000" stroke-width="1.1"/>
<rect x="1090.63" y="224.4" width="4" height="8.20" fill="#fff" stroke="#000" stroke-width="1"/>
<line x1="1098.30" y1="216.3" x2="1098.30" y2="229.9" stroke="#000" stroke-width="1.1"/>
<line x1="1096.10" y1="224.4" x2="1100.50" y2="224.4" stroke="#000" stroke-width="1.2"/>
<line x1="1103.97" y1="216.3" x2="1103.97" y2="235.6" stroke="#000" stroke-width="1.1"/>
<rect x="1101.97" y="224.4" width="4" height="10.20" fill="#000"/>
<line x1="1109.64" y1="232.6" x2="1109.64" y2="246.2" stroke="#000" stroke-width="1.1"/>
<rect x="1107.64" y="233.9" width="4" height="5.50" fill="#000"/>
<line x1="1115.31" y1="229.2" x2="1115.31" y2="239.4" stroke="#000" stroke-width="1.1"/>
<rect x="1113.31" y="235.3" width="4" height="4.10" fill="#fff" stroke="#000" stroke-width="1"/>
<line x1="1120.97" y1="221" x2="1120.97" y2="235" stroke="#000" stroke-width="1.1"/>
<rect x="1118.97" y="229.2" width="4" height="5.80" fill="#fff" stroke="#000" stroke-width="1"/>
<line x1="1126.64" y1="226" x2="1126.64" y2="229.5" stroke="#000" stroke-width="1.1"/>
<rect x="1124.64" y="226.3" width="4" height="2.80" fill="#fff" stroke="#000" stroke-width="1"/>
<line x1="1132.31" y1="208.1" x2="1132.31" y2="229.1" stroke="#000" stroke-width="1.1"/>
<rect x="1130.31" y="210.4" width="4" height="17.00" fill="#fff" stroke="#000" stroke-width="1"/>
<line x1="1137.98" y1="205.3" x2="1137.98" y2="214.4" stroke="#000" stroke-width="1.1"/>
<rect x="1135.98" y="210.4" width="4" height="4.00" fill="#000"/>
<line x1="1143.65" y1="209.3" x2="1143.65" y2="228" stroke="#000" stroke-width="1.1"/>
<rect x="1141.65" y="213.2" width="4" height="11.40" fill="#000"/>
<line x1="1149.32" y1="220" x2="1149.32" y2="235.9" stroke="#000" stroke-width="1.1"/>
<rect x="1147.32" y="224.6" width="4" height="6.80" fill="#000"/>
<line x1="1154.99" y1="227.4" x2="1154.99" y2="249" stroke="#000" stroke-width="1.1"/>
<rect x="1152.99" y="231.4" width="4" height="7.90" fill="#000"/>
<line x1="1160.66" y1="231.4" x2="1160.66" y2="238.8" stroke="#000" stroke-width="1.1"/>
<rect x="1158.66" y="235.4" width="4" height="3.40" fill="#fff" stroke="#000" stroke-width="1"/>
<line x1="1166.32" y1="230.2" x2="1166.32" y2="235.9" stroke="#000" stroke-width="1.1"/>
<rect x="1164.32" y="233.5" width="4" height="2.60" fill="#fff" stroke="#000" stroke-width="1"/>
<line x1="1171.99" y1="230.2" x2="1171.99" y2="234.8" stroke="#000" stroke-width="1.1"/>
<rect x="1169.99" y="230.2" width="4" height="3.50" fill="#fff" stroke="#000" stroke-width="1"/>
<line x1="1177.66" y1="230.8" x2="1177.66" y2="258.6" stroke="#000" stroke-width="1.1"/>
<rect x="1175.66" y="230.8" width="4" height="25.50" fill="#000"/>
<line x1="1183.33" y1="251.5" x2="1183.33" y2="300" stroke="#000" stroke-width="1.1"/>
<rect x="1181.33" y="256" width="4" height="26.00" fill="#000"/>
<line x1="1189.00" y1="265.6" x2="1189.00" y2="291.6" stroke="#000" stroke-width="1.1"/>
<rect x="1187.00" y="271" width="4" height="11.00" fill="#fff" stroke="#000" stroke-width="1"/>
<line x1="1194.67" y1="268.4" x2="1194.67" y2="284.6" stroke="#000" stroke-width="1.1"/>
<rect x="1192.67" y="271" width="4" height="8.50" fill="#000"/>
<line x1="1200.34" y1="266.8" x2="1200.34" y2="289" stroke="#000" stroke-width="1.1"/>
<rect x="1198.34" y="270.5" width="4" height="8.80" fill="#fff" stroke="#000" stroke-width="1"/>
<line x1="1206.01" y1="265.9" x2="1206.01" y2="275.3" stroke="#000" stroke-width="1.1"/>
<rect x="1204.01" y="269.9" width="4" height="3.00" fill="#000"/>
<line x1="1211.68" y1="254" x2="1211.68" y2="275.6" stroke="#000" stroke-width="1.1"/>
<rect x="1209.68" y="258" width="4" height="14.30" fill="#fff" stroke="#000" stroke-width="1"/>
<line x1="1217.34" y1="251.7" x2="1217.34" y2="263.2" stroke="#000" stroke-width="1.1"/>
<rect x="1215.34" y="257.5" width="4" height="2.00" fill="#000"/>
<line x1="1223.01" y1="251.7" x2="1223.01" y2="271" stroke="#000" stroke-width="1.1"/>
<rect x="1221.01" y="259" width="4" height="12.00" fill="#000"/>
<line x1="1228.68" y1="257" x2="1228.68" y2="274.7" stroke="#000" stroke-width="1.1"/>
<line x1="1226.48" y1="270.8" x2="1230.88" y2="270.8" stroke="#000" stroke-width="1.2"/>
<line x1="1234.35" y1="258.4" x2="1234.35" y2="291.6" stroke="#000" stroke-width="1.1"/>
<rect x="1232.35" y="271.69999999999993" width="4" height="19.90" fill="#000"/>
<line x1="146.7" y1="386" x2="191.3" y2="326.3" stroke="#000" stroke-width="2.7"/>
<line x1="219" y1="360" x2="605" y2="354" stroke="#000" stroke-width="2.7"/>
<line x1="507.9" y1="337.1" x2="582" y2="233.6" stroke="#000" stroke-width="2.7"/>
<line x1="655" y1="263.5" x2="712.4" y2="157" stroke="#000" stroke-width="2.7"/>
<line x1="1023.8" y1="160.6" x2="1274.5" y2="254.8" stroke="#000" stroke-width="2.7"/>
</g>
<text x="23.099999999999998" y="59.8" font-size="15.6" fill="#131722" stroke="#131722" stroke-width="0.15" textLength="246.9" lengthAdjust="spacingAndGlyphs">Ethereum / TetherUS · 1D · Binance</text>
<text x="279.0" y="59.8" font-size="15.6" fill="#131722" stroke="#131722" stroke-width="0.15" textLength="70.0" lengthAdjust="spacingAndGlyphs">O3,414.91</text>
<text x="360.2" y="59.8" font-size="15.6" fill="#131722" stroke="#131722" stroke-width="0.15" textLength="68.5" lengthAdjust="spacingAndGlyphs">H3,565.84</text>
<text x="438.7" y="59.8" font-size="15.6" fill="#131722" stroke="#131722" stroke-width="0.15" textLength="66.89999999999999" lengthAdjust="spacingAndGlyphs">L3,154.22</text>
<text x="515.4000000000001" y="59.8" font-size="15.6" fill="#131722" stroke="#131722" stroke-width="0.15" textLength="67.6" lengthAdjust="spacingAndGlyphs">C3,174.41</text>
<text x="594.3000000000001" y="59.8" font-size="15.6" fill="#131722" stroke="#131722" stroke-width="0.15" textLength="51.9" lengthAdjust="spacingAndGlyphs">−240.51</text>
<text x="653.6" y="59.8" font-size="15.6" fill="#131722" stroke="#131722" stroke-width="0.15" textLength="57.099999999999994" lengthAdjust="spacingAndGlyphs">(−7.04%)</text>
<text x="23.1" y="82.2" font-size="15.6" fill="#131722" stroke="#131722" stroke-width="0.15" textLength="137.7" lengthAdjust="spacingAndGlyphs">EMA 20/50/100/200</text>
<g clip-path="url(#rsi)">
<rect x="13" y="416.5" width="1425.5" height="47" fill="#7e57c2" fill-opacity="0.1"/>
<polygon points="157.3,416.5 157.3,416.5 161.4,407.5 167.1,403.5 173.6,397.8 180.1,404.3 185.0,406.2 191.5,401.8 197.2,409.2 202.1,413.2 207.8,414.0 213.5,416.5 219.2,416.5 224.8,416.5 230.5,416.5 236.2,416.5 241.4,412.1 247.9,416.5 254.1,416.5 254.1,416.5" fill="url(#gg)"/>
<polygon points="536.6,416.5 536.6,414.4 542.3,412.4 548.0,407.2 554.5,401.8 559.4,399.7 565.1,398.6 570.8,397.8 575.7,395.6 582.2,395.3 587.9,397.0 593.6,408.3 598.5,406.7 604.2,405.9 609.9,405.6 615.6,402.6 622.1,409.2 627.8,409.5 633.5,409.2 638.3,416.5 644.0,416.5 649.7,416.5 656.2,416.5 661.9,416.5 666.8,416.5 672.5,416.5 679.0,416.5 683.9,416.5 690.4,412.1 695.3,412.7 700.2,414.0 706.7,407.2 711.6,404.3 718.1,414.9 723.8,416.5 729.5,416.5 735.2,416.5 740.9,416.5 740.9,416.5" fill="url(#gg)"/>
<line x1="13" y1="416.5" x2="1438.5" y2="416.5" stroke="#787b86" stroke-width="1.25" stroke-dasharray="4.5,4.92"/>
<line x1="13" y1="440" x2="1438.5" y2="440" stroke="#b2b5be" stroke-width="1.25" stroke-dasharray="4.5,4.92"/>
<line x1="13" y1="463.5" x2="1438.5" y2="463.5" stroke="#787b86" stroke-width="1.25" stroke-dasharray="4.5,4.92"/>
<path d="M13.30,457.20 C15.47,457.00 19.52,456.37 26.30,456.00 C33.08,455.63 47.22,455.62 54.00,455.00 C60.78,454.38 60.77,453.97 67.00,452.30 C73.23,450.63 81.90,447.58 91.40,445.00 C100.90,442.42 115.87,438.83 124.00,436.80 C132.13,434.77 134.78,433.55 140.20,432.80 C145.62,432.05 151.07,433.58 156.50,432.30 C161.93,431.02 167.38,427.33 172.80,425.10 C178.22,422.87 183.58,420.47 189.00,418.90 C194.42,417.33 199.87,416.78 205.30,415.70 C210.73,414.62 216.45,413.30 221.60,412.40 C226.75,411.50 232.67,410.57 236.20,410.30 C239.73,410.03 239.67,410.12 242.80,410.80 C245.93,411.48 250.25,413.32 255.00,414.40 C259.75,415.48 265.87,416.33 271.30,417.30 C276.73,418.27 282.18,419.38 287.60,420.20 C293.02,421.02 298.38,421.27 303.80,422.20 C309.22,423.13 314.67,424.72 320.10,425.80 C325.53,426.88 330.97,428.00 336.40,428.70 C341.83,429.40 347.28,429.60 352.70,430.00 C358.12,430.40 363.48,430.50 368.90,431.10 C374.32,431.70 379.77,432.92 385.20,433.60 C390.63,434.28 396.07,434.38 401.50,435.20 C406.93,436.02 412.38,437.15 417.80,438.50 C423.22,439.85 428.58,442.30 434.00,443.30 C439.42,444.30 444.87,444.28 450.30,444.50 C455.73,444.72 461.17,444.93 466.60,444.60 C472.03,444.27 477.48,443.52 482.90,442.50 C488.32,441.48 493.53,439.85 499.10,438.50 C504.67,437.15 510.72,435.90 516.30,434.40 C521.88,432.90 527.18,431.53 532.60,429.50 C538.02,427.47 543.38,424.37 548.80,422.20 C554.22,420.03 559.67,418.82 565.10,416.50 C570.53,414.18 577.33,410.20 581.40,408.30 C585.47,406.40 586.78,405.77 589.50,405.10 C592.22,404.43 593.63,404.65 597.70,404.30 C601.77,403.95 608.48,403.22 613.90,403.00 C619.32,402.78 626.13,402.78 630.20,403.00 C634.27,403.22 634.23,402.73 638.30,404.30 C642.37,405.87 649.17,409.97 654.60,412.40 C660.03,414.83 665.47,417.40 670.90,418.90 C676.33,420.40 681.77,420.85 687.20,421.40 C692.63,421.95 698.08,422.20 703.50,422.20 C708.92,422.20 714.28,422.08 719.70,421.40 C725.12,420.72 730.95,418.57 736.00,418.10 C741.05,417.63 745.78,418.47 750.00,418.60 C754.22,418.73 756.70,418.30 761.30,418.90 C765.90,419.50 772.18,420.90 777.60,422.20 C783.02,423.50 788.38,425.48 793.80,426.70 C799.22,427.92 804.67,428.68 810.10,429.50 C815.53,430.32 820.97,430.92 826.40,431.60 C831.83,432.28 837.27,432.73 842.70,433.60 C848.13,434.47 854.12,435.98 859.00,436.80 C863.88,437.62 866.58,438.63 872.00,438.50 C877.42,438.37 885.53,436.60 891.50,436.00 C897.47,435.40 902.38,435.30 907.80,434.90 C913.22,434.50 919.93,433.88 924.00,433.60 C928.07,433.32 928.12,432.88 932.20,433.20 C936.28,433.52 943.08,434.08 948.50,435.50 C953.92,436.92 959.28,440.12 964.70,441.70 C970.12,443.28 975.95,444.32 981.00,445.00 C986.05,445.68 990.78,445.80 995.00,445.80 C999.22,445.80 1003.07,445.42 1006.30,445.00 C1009.53,444.58 1011.68,443.98 1014.40,443.30 C1017.12,442.62 1019.07,441.70 1022.60,440.90 C1026.13,440.10 1031.53,438.85 1035.60,438.50 C1039.67,438.15 1042.40,438.80 1047.00,438.80 C1051.60,438.80 1057.78,438.02 1063.20,438.50 C1068.62,438.98 1074.07,440.62 1079.50,441.70 C1084.93,442.78 1090.37,443.87 1095.80,445.00 C1101.23,446.13 1106.68,448.28 1112.10,448.50 C1117.52,448.72 1122.88,446.75 1128.30,446.30 C1133.72,445.85 1139.17,445.88 1144.60,445.80 C1150.03,445.72 1156.28,445.93 1160.90,445.80 C1165.52,445.67 1168.23,444.82 1172.30,445.00 C1176.37,445.18 1180.42,446.32 1185.30,446.90 C1190.18,447.48 1196.17,447.87 1201.60,448.50 C1207.03,449.13 1212.48,449.93 1217.90,450.70 C1223.32,451.47 1231.40,452.70 1234.10,453.10" fill="none" stroke="#fdd835" stroke-width="2"/>
<polyline points="13.3,451.5 15.7,449.5 20.6,451.5 26.3,449.5 32.8,451.8 37.7,452.5 48.2,451.2 54.8,449.0 60.5,450.7 66.2,451.5 71.8,435.5 76.7,432.8 83.2,435.2 88.9,433.9 94.6,431.1 99.5,434.1 106.0,433.2 116.6,434.1 123.9,430.0 130.4,429.5 135.3,431.1 140.2,434.1 145.1,432.8 151.6,432.9 157.3,434.1 161.4,407.5 167.1,403.5 173.6,397.8 180.1,404.3 185.0,406.2 191.5,401.8 197.2,409.2 202.1,413.2 207.8,414.0 213.5,419.3 219.2,418.1 224.8,417.3 230.5,417.6 236.2,416.5 241.4,412.1 247.9,424.6 254.1,423.8 259.1,423.0 264.8,422.2 270.5,417.3 276.2,417.0 281.0,420.6 287.6,431.1 293.2,431.1 298.1,430.6 304.6,425.9 309.5,427.1 316.0,426.2 320.9,443.3 326.6,438.5 333.1,435.2 338.0,436.5 343.7,426.2 349.4,419.3 355.1,423.5 360.8,431.9 366.5,436.8 372.2,440.1 378.7,439.3 383.6,439.3 389.3,441.7 394.2,440.4 400.7,440.4 406.4,449.0 412.1,454.7 417.8,458.8 422.6,444.2 428.3,442.5 434.0,443.3 440.5,443.3 445.4,443.3 451.1,442.0 457.6,436.8 462.5,438.1 469.0,444.2 473.9,432.3 479.6,431.1 485.3,436.8 491.0,436.8 497.5,433.2 502.4,435.5 508.1,430.6 513.8,422.2 519.5,414.0 525.2,413.7 531.7,415.3 536.6,414.4 542.3,412.4 548.0,407.2 554.5,401.8 559.4,399.7 565.1,398.6 570.8,397.8 575.7,395.6 582.2,395.3 587.9,397.0 593.6,408.3 598.5,406.7 604.2,405.9 609.9,405.6 615.6,402.6 622.1,409.2 627.8,409.5 633.5,409.2 638.3,418.1 644.0,435.2 649.7,440.1 656.2,433.6 661.9,425.8 666.8,431.1 672.5,427.9 679.0,420.6 683.9,417.3 690.4,412.1 695.3,412.7 700.2,414.0 706.7,407.2 711.6,404.3 718.1,414.9 723.8,419.7 729.5,421.4 735.2,420.2 740.9,428.7 746.6,436.8 751.5,429.0 758.0,433.2 762.9,420.2 768.6,421.9 774.3,421.4 780.0,434.9 786.5,429.5 792.2,432.3 797.1,432.3 802.8,436.8 808.5,436.5 814.2,436.0 819.9,438.8 824.8,438.5 831.3,434.4 837.0,440.1 842.7,439.8 848.4,440.9 854.1,439.8 859.7,439.3 865.4,439.3 871.1,437.2 876.8,431.9 883.0,423.0 888.2,425.1 893.9,428.7 899.6,432.8 905.3,433.9 911.0,430.6 916.7,430.6 921.6,437.2 927.3,436.8 933.0,439.3 939.5,449.8 945.2,451.8 950.9,452.8 956.6,462.1 961.5,453.1 967.2,453.4 972.9,446.6 978.6,443.0 984.3,445.8 989.1,436.8 996.5,431.1 1001.4,430.0 1007.1,431.6 1012.8,430.3 1018.0,423.8 1024.2,436.0 1029.1,432.8 1035.6,439.3 1041.3,456.0 1046.2,458.3 1052.7,443.3 1057.5,440.9 1064.1,444.2 1069.8,448.2 1075.4,450.2 1081.1,451.8 1086.8,449.0 1092.5,445.8 1098.2,445.8 1103.9,448.5 1109.6,451.5 1115.3,448.5 1121.0,445.8 1126.7,444.6 1132.4,436.0 1138.1,437.6 1143.8,443.0 1149.5,445.8 1154.4,449.8 1160.9,447.4 1166.6,445.8 1172.3,444.6 1177.2,454.7 1182.9,462.9 1188.6,457.2 1194.3,459.6 1200.8,453.9 1205.7,454.7 1210.5,446.9 1216.2,447.4 1222.7,452.3 1228.4,452.3 1234.1,458.8" fill="none" stroke="#7e57c2" stroke-width="1.7"/>
</g>
<text x="23.6" y="412.2" font-size="15.6" fill="#131722" stroke="#131722" stroke-width="0.15" textLength="20" lengthAdjust="spacingAndGlyphs">RSI</text>
<g clip-path="url(#sto)">
<rect x="13" y="493" width="1425.5" height="39.5" fill="#2196f3" fill-opacity="0.1"/>
<line x1="13" y1="493" x2="1438.5" y2="493" stroke="#787b86" stroke-width="1.25" stroke-dasharray="4.5,4.92"/>
<line x1="13" y1="512.5" x2="1438.5" y2="512.5" stroke="#b2b5be" stroke-width="1.25" stroke-dasharray="4.5,4.92"/>
<line x1="13" y1="532.5" x2="1438.5" y2="532.5" stroke="#787b86" stroke-width="1.25" stroke-dasharray="4.5,4.92"/>
<polyline points="13.3,518.6 15.7,515.0 20.6,520.2 26.3,517.3 32.8,521.5 37.7,517.3 43.4,515.6 49.1,514.5 54.8,510.4 60.5,502.0 66.2,503.6 71.8,483.1 77.5,486.8 83.2,492.5 88.9,490.1 94.6,484.1 100.3,493.3 106.0,491.2 111.7,492.5 117.4,492.5 123.1,486.8 128.8,485.7 134.5,487.6 140.2,492.5 145.9,490.6 151.6,503.1 157.3,506.4 162.2,482.4 167.9,492.2 173.6,480.8 179.3,485.7 185.0,489.0 191.5,483.6 196.4,488.5 202.1,492.5 207.8,492.9 213.5,497.1 219.2,496.1 224.8,493.8 230.5,493.8 236.2,492.9 241.4,488.5 247.9,512.1 254.1,512.1 259.1,508.5 264.8,507.2 270.5,490.9 276.2,488.0 281.9,502.0 287.6,515.3 293.2,515.6 298.1,516.1 303.8,513.7 309.5,517.0 316.0,515.6 320.9,540.5 326.6,528.3 333.1,521.5 338.0,523.5 343.7,501.5 349.4,481.1 355.1,494.2 360.8,510.4 366.5,518.9 372.2,524.8 378.7,522.6 383.6,523.1 389.3,527.5 394.2,525.9 400.7,525.9 406.4,539.4 412.1,537.3 417.8,534.8 422.6,519.4 428.3,516.6 434.0,515.3 440.5,510.1 445.4,509.1 451.1,507.5 457.6,499.9 462.5,496.6 469.0,503.1 473.9,486.0 479.6,485.2 485.3,495.8 491.0,494.2 497.5,489.3 502.4,502.3 509.0,484.7 514.6,483.6 519.5,484.7 525.2,487.3 530.9,489.0 536.6,486.3 542.3,486.3 548.0,480.3 553.7,483.1 559.4,482.8 565.9,486.3 571.6,484.1 576.5,483.1 582.2,484.1 587.9,485.2 593.6,493.3 598.5,490.1 604.2,488.5 610.7,488.0 615.6,480.3 621.3,488.5 627.0,490.9 633.5,493.3 638.3,507.2 643.2,536.8 649.7,541.4 655.4,525.1 662.0,503.9 667.6,515.6 672.5,508.0 678.2,483.1 683.9,485.2 689.6,484.1 695.3,485.2 701.0,489.0 706.7,482.4 711.6,481.1 717.3,489.0 723.8,495.8 729.5,496.1 735.2,495.8 740.9,505.6 746.6,517.0 751.5,505.6 758.0,519.4 763.2,484.1 768.6,488.0 774.3,491.2 780.0,521.5 786.5,505.6 792.2,512.1 797.1,511.7 803.6,522.6 809.3,521.5 814.2,520.5 819.9,525.9 825.6,524.8 831.3,523.1 837.0,536.8 842.7,536.2 848.4,538.9 854.1,534.0 859.7,530.8 865.4,530.3 871.1,523.1 876.8,491.7 883.0,484.4 888.2,489.3 893.9,498.7 899.6,509.6 905.3,512.1 911.0,501.5 916.7,502.0 921.6,516.1 927.3,517.3 933.0,521.8 939.5,532.4 945.2,536.2 950.9,536.8 956.6,540.1 961.5,529.6 967.2,529.6 972.9,519.9 979.4,513.4 984.3,518.6 989.1,503.1 995.7,490.9 1001.4,486.3 1007.1,488.5 1012.8,488.0 1018.0,483.6 1024.2,500.7 1029.9,495.8 1036.4,508.0 1041.3,524.8 1046.2,529.2 1052.7,509.6 1057.5,504.7 1064.1,510.1 1069.8,517.3 1075.4,521.0 1081.1,524.8 1086.8,521.8 1092.5,517.3 1098.2,517.8 1103.9,518.6 1109.6,522.6 1115.3,516.1 1121.0,515.6 1126.7,515.6 1132.4,493.8 1137.3,495.5 1143.8,510.4 1149.5,518.6 1154.4,529.6 1160.9,525.9 1166.6,522.6 1172.3,518.9 1177.2,540.1 1182.9,531.6 1188.6,524.8 1194.3,530.8 1200.8,524.3 1205.7,525.9 1210.5,516.1 1217.1,515.0 1222.8,520.5 1228.4,518.9 1234.1,535.7" fill="none" stroke="#2962ff" stroke-width="1.7"/>
<polyline points="13.3,523.5 19.8,520.2 26.3,517.3 32.8,519.9 42.6,518.2 54.0,513.7 65.3,504.7 71.8,496.6 83.2,487.6 91.4,489.3 102.8,489.3 112.5,492.2 119.0,491.7 133.7,486.3 145.1,489.3 157.3,499.4 167.9,493.8 173.6,485.2 185.0,485.2 202.1,488.5 215.1,494.5 224.8,495.0 241.1,492.2 258.3,511.2 264.8,509.1 271.3,501.5 277.8,495.0 281.0,493.8 287.6,502.0 293.2,510.8 299.0,515.6 308.7,515.6 316.0,515.6 321.7,524.8 326.6,528.0 333.1,530.0 339.6,523.5 345.3,512.9 351.0,500.7 355.1,490.9 361.6,495.8 367.3,508.0 373.0,517.8 378.7,522.2 390.1,524.8 401.5,526.7 411.3,532.9 417.8,536.8 424.3,529.2 434.0,516.6 445.4,511.2 456.8,505.6 463.3,501.5 468.2,500.3 476.4,493.3 485.3,489.0 492.6,492.2 502.4,495.0 513.0,490.1 519.5,484.4 529.3,486.8 542.3,486.8 548.8,484.1 558.6,482.4 568.4,484.7 581.4,484.1 587.9,484.7 597.7,489.3 604.2,490.6 610.7,489.0 617.2,485.2 627.0,486.8 633.5,491.2 640.0,499.9 649.7,530.8 655.4,535.7 662.8,524.8 670.9,511.2 679.0,502.0 683.9,492.5 691.2,484.4 701.8,486.3 711.6,484.7 718.1,485.2 729.5,494.2 737.6,498.2 745.0,503.9 751.5,508.0 758.8,513.7 763.7,503.1 769.4,497.1 775.1,488.5 780.0,500.7 785.7,506.4 792.2,512.9 797.1,510.1 803.6,515.6 813.4,521.0 819.9,522.2 831.3,525.1 842.7,532.4 848.4,537.3 859.4,535.2 872.0,527.5 878.5,509.6 887.4,489.3 893.1,491.7 905.3,506.4 911.0,507.5 916.7,505.2 921.6,506.4 927.3,511.2 933.8,518.9 939.5,524.3 945.2,531.3 956.6,538.1 967.2,533.5 972.9,525.9 984.3,517.0 995.7,503.9 1001.4,493.3 1007.1,488.5 1017.7,486.8 1029.9,494.2 1040.5,509.6 1046.2,520.2 1052.7,521.0 1064.1,508.0 1069.8,511.2 1081.1,521.0 1086.8,522.6 1092.5,521.5 1103.9,518.2 1115.3,519.4 1121.0,517.8 1126.7,515.0 1138.1,502.3 1143.0,499.9 1149.5,508.0 1154.4,519.4 1165.8,525.9 1172.3,521.5 1177.2,526.7 1188.6,531.9 1200.0,526.4 1205.7,526.4 1210.5,521.8 1221.1,517.0 1228.4,517.8 1234.1,525.4" fill="none" stroke="#ff6d00" stroke-width="1.7"/>
</g>
<text x="23.6" y="497.5" font-size="15.6" fill="#131722" stroke="#131722" stroke-width="0.15" textLength="36" lengthAdjust="spacingAndGlyphs">Stoch</text>
<text x="123" y="572.8" font-size="15" fill="#131722" stroke="#131722" stroke-width="0.45" text-anchor="middle">May</text>
<text x="298.5" y="572.8" font-size="15" fill="#131722" stroke="#131722" stroke-width="0.45" text-anchor="middle">Jun</text>
<text x="468.4" y="572.8" font-size="15" fill="#131722" stroke="#131722" stroke-width="0.45" text-anchor="middle">Jul</text>
<text x="644" y="572.8" font-size="15" fill="#131722" stroke="#131722" stroke-width="0.45" text-anchor="middle">Aug</text>
<text x="820" y="572.8" font-size="15" fill="#131722" stroke="#131722" stroke-width="0.45" text-anchor="middle">Sep</text>
<text x="990" y="572.8" font-size="15" fill="#131722" stroke="#131722" stroke-width="0.45" text-anchor="middle">Oct</text>
<text x="1166" y="572.8" font-size="15" fill="#131722" stroke="#131722" stroke-width="0.45" text-anchor="middle">Nov</text>
<text x="1336" y="572.8" font-size="15" fill="#131722" stroke="#131722" stroke-width="0.45" text-anchor="middle">Dec</text>
<rect x="1443.5" y="40.5" width="74" height="32" rx="6" fill="#fff" stroke="#ececec" stroke-width="1"/>
<text x="1473.5" y="61" font-size="15" fill="#131722" text-anchor="middle" textLength="35" lengthAdjust="spacingAndGlyphs">USDT</text>
<rect x="1439" y="78" width="77" height="25.00" fill="#333333" rx="0"/>
<text x="1451" y="96.8" font-size="15.5" fill="#fff" stroke="#fff" stroke-width="0.3" textLength="59" lengthAdjust="spacingAndGlyphs">4,492.09</text>
<rect x="1439" y="103" width="77" height="23.00" fill="#333333" rx="0"/>
<text x="1451" y="118.5" font-size="15.5" fill="#fff" stroke="#fff" stroke-width="0.3" textLength="59" lengthAdjust="spacingAndGlyphs">4,272.68</text>
<rect x="1439" y="125.8" width="77" height="21.20" fill="#000000" rx="0"/>
<text x="1451" y="139" font-size="15.5" fill="#fff" stroke="#fff" stroke-width="0.3" textLength="59" lengthAdjust="spacingAndGlyphs">4,095.98</text>
<rect x="1439" y="146.8" width="77" height="22.60" fill="#00ffff" rx="0"/>
<text x="1451" y="162.2" font-size="15.5" fill="#000" stroke="#000" stroke-width="0.3" textLength="59" lengthAdjust="spacingAndGlyphs">3,853.90</text>
<rect x="1439" y="169.4" width="77" height="20.40" fill="#ff7f00" rx="0"/>
<text x="1451" y="183.8" font-size="15.5" fill="#fff" stroke="#fff" stroke-width="0.3" textLength="59" lengthAdjust="spacingAndGlyphs">3,840.44</text>
<rect x="1439" y="189.8" width="77" height="44.60" fill="#000000" rx="0"/>
<text x="1451" y="206" font-size="15.5" fill="#fff" stroke="#fff" stroke-width="0.3" textLength="59" lengthAdjust="spacingAndGlyphs">3,815.00</text>
<text x="1451" y="226.9" font-size="15.5" fill="#fff" stroke="#fff" stroke-width="0.3" textLength="59" lengthAdjust="spacingAndGlyphs">3,661.98</text>
<rect x="1439" y="234.4" width="77" height="20.50" fill="#0000ff" rx="0"/>
<text x="1451" y="250" font-size="15.5" fill="#fff" stroke="#fff" stroke-width="0.3" textLength="59" lengthAdjust="spacingAndGlyphs">3,588.00</text>
<rect x="1439" y="254.9" width="77" height="22.70" fill="#333333" rx="2"/>
<rect x="1439" y="254.9" width="77" height="7.10" fill="#333333" rx="0"/>
<text x="1451" y="271.5" font-size="15.5" fill="#fff" stroke="#fff" stroke-width="0.3" textLength="59" lengthAdjust="spacingAndGlyphs">3,472.37</text>
<rect x="1439" y="280.3" width="77" height="40.20" fill="#000000" rx="2"/>
<rect x="1439" y="300" width="77" height="20.50" fill="#000000" rx="0"/>
<text x="1451" y="296.6" font-size="15.5" fill="#fff" stroke="#fff" stroke-width="0.3" textLength="59" lengthAdjust="spacingAndGlyphs">3,174.41</text>
<text x="1451" y="314.1" font-size="15.5" fill="#b8bbc4" stroke="#b8bbc4" stroke-width="0.3" textLength="59" lengthAdjust="spacingAndGlyphs">02:22:18</text>
<rect x="1439" y="320.5" width="77" height="21.10" fill="#333333" rx="0"/>
<text x="1451" y="335.7" font-size="15.5" fill="#fff" stroke="#fff" stroke-width="0.3" textLength="59" lengthAdjust="spacingAndGlyphs">3,105.52</text>
<rect x="1439" y="342.5" width="77" height="21.70" fill="#000000" rx="2"/>
<text x="1451" y="357.9" font-size="15.5" fill="#fff" stroke="#fff" stroke-width="0.3" textLength="59" lengthAdjust="spacingAndGlyphs">2,852.02</text>
<text x="1450.7" y="409.9" font-size="15.5" fill="#131722" stroke="#131722" stroke-width="0.3" textLength="37.7" lengthAdjust="spacingAndGlyphs">80.00</text>
<path d="M1439,426.4 H1490.7 Q1494.7,426.4 1494.7,430.4 V449.1 H1439 Z" fill="#fdd835"/>
<text x="1450.7" y="443.4" font-size="15.5" fill="#000" stroke="#000" stroke-width="0.3" textLength="37.7" lengthAdjust="spacingAndGlyphs">38.54</text>
<path d="M1439,449.1 H1494.7 V466.6 Q1494.7,470.6 1490.7,470.6 H1439 Z" fill="#7e57c2"/>
<text x="1450.7" y="464.5" font-size="15.5" fill="#fff" stroke="#fff" stroke-width="0.3" textLength="37.7" lengthAdjust="spacingAndGlyphs">33.35</text>
<text x="1450.7" y="485.7" font-size="15.5" fill="#131722" stroke="#131722" stroke-width="0.3" textLength="45.5" lengthAdjust="spacingAndGlyphs">100.00</text>
<text x="1450.7" y="556" font-size="15.5" fill="#131722" stroke="#131722" stroke-width="0.3" textLength="30" lengthAdjust="spacingAndGlyphs">0.00</text>
<path d="M1439,503 H1490.7 Q1494.7,503 1494.7,507 V525.7 H1439 Z" fill="#ff6d00"/>
<text x="1450.7" y="519.6" font-size="15.5" fill="#fff" stroke="#fff" stroke-width="0.3" textLength="37.7" lengthAdjust="spacingAndGlyphs">30.20</text>
<path d="M1439,525.7 H1494.7 V542.8 Q1494.7,546.8 1490.7,546.8 H1439 Z" fill="#2962ff"/>
<text x="1450.7" y="540.7" font-size="15.5" fill="#fff" stroke="#fff" stroke-width="0.3" textLength="37.7" lengthAdjust="spacingAndGlyphs">13.63</text>
<rect x="1439" y="550" width="83" height="34" fill="#fff"/>
<g fill="#000">
<path d="M15.3,613 H30.5 V632.5 H23.1 V620 H15.3 Z"/>
<circle cx="37.5" cy="616.9" r="3.6"/>
<path d="M45.3,613 H53.6 L45.3,632.5 H37.5 Z"/>
</g>
<text x="63.3" y="632.5" font-size="27.5" font-weight="bold" fill="#000" textLength="154.7" lengthAdjust="spacingAndGlyphs">TradingView</text>
</svg></body></html>
